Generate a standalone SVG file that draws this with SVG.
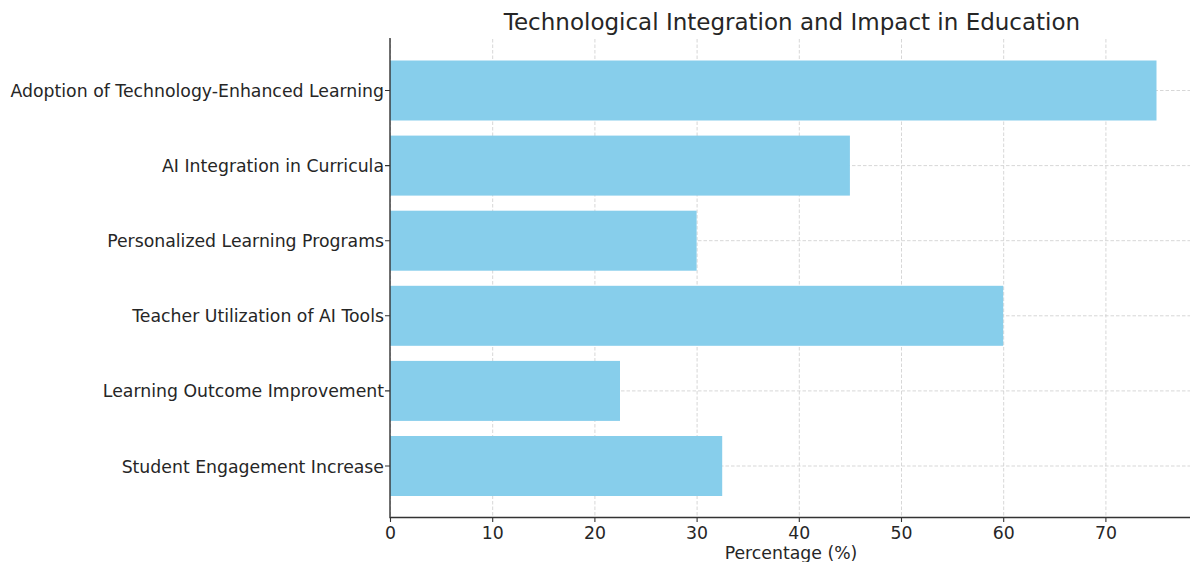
<svg xmlns="http://www.w3.org/2000/svg" width="1190" height="562" viewBox="0 0 1190 562">
<style>
text{font-family:"DejaVu Sans","Liberation Sans",sans-serif;fill:#262626}
.yl{font-size:17.3px;text-anchor:end}
.xl{font-size:17.3px;text-anchor:middle}
.grid{stroke:#d2d2d2;stroke-width:0.9;stroke-dasharray:3.5,2;fill:none}
.bar{fill:#87CEEB}
.spine{stroke:#333;stroke-width:1.4;fill:none}
.tick{stroke:#333;stroke-width:1.1}
</style>
<rect width="1190" height="562" fill="#fff"/>
<g id="grid">
<path class="grid" d="M390.5 39V517M492.7 39V517M594.9 39V517M697.1 39V517M799.3 39V517M901.5 39V517M1003.7 39V517M1105.9 39V517"/>
<path class="grid" d="M390 90.5H1190M390 165.6H1190M390 240.7H1190M390 315.8H1190M390 390.9H1190M390 466H1190"/>
</g>
<g id="bars">
<rect id="bar-adoption" class="bar" x="390" y="60.5" width="766.5" height="60"/>
<rect id="bar-ai" class="bar" x="390" y="135.6" width="459.9" height="60"/>
<rect id="bar-personalized" class="bar" x="390" y="210.7" width="306.6" height="60"/>
<rect id="bar-teacher" class="bar" x="390" y="285.8" width="613.2" height="60"/>
<rect id="bar-outcome" class="bar" x="390" y="360.9" width="230" height="60"/>
<rect id="bar-engagement" class="bar" x="390" y="436" width="332.2" height="60"/>
</g>
<g id="axes">
<path class="spine" d="M390 38V517.5H1190"/>
<path class="tick" d="M385 90.5H390M385 165.6H390M385 240.7H390M385 315.8H390M385 390.9H390M385 466H390"/>
<path class="tick" d="M390.5 517V522M492.7 517V522M594.9 517V522M697.1 517V522M799.3 517V522M901.5 517V522M1003.7 517V522M1105.9 517V522"/>
</g>
<g id="ylabels">
<text class="yl" x="384" y="97">Adoption of Technology-Enhanced Learning</text>
<text class="yl" x="384" y="172.1">AI Integration in Curricula</text>
<text class="yl" x="384" y="247.2">Personalized Learning Programs</text>
<text class="yl" x="384" y="322.3">Teacher Utilization of AI Tools</text>
<text class="yl" x="384" y="397.4">Learning Outcome Improvement</text>
<text class="yl" x="384" y="472.5">Student Engagement Increase</text>
</g>
<g id="xlabels">
<text class="xl" x="390.5" y="539">0</text>
<text class="xl" x="492.7" y="539">10</text>
<text class="xl" x="594.9" y="539">20</text>
<text class="xl" x="697.1" y="539">30</text>
<text class="xl" x="799.3" y="539">40</text>
<text class="xl" x="901.5" y="539">50</text>
<text class="xl" x="1003.7" y="539">60</text>
<text class="xl" x="1105.9" y="539">70</text>
<text class="xl" x="791" y="559">Percentage (%)</text>
</g>
<text id="title" x="792" y="30" style="font-size:23px;text-anchor:middle">Technological Integration and Impact in Education</text>
</svg>
